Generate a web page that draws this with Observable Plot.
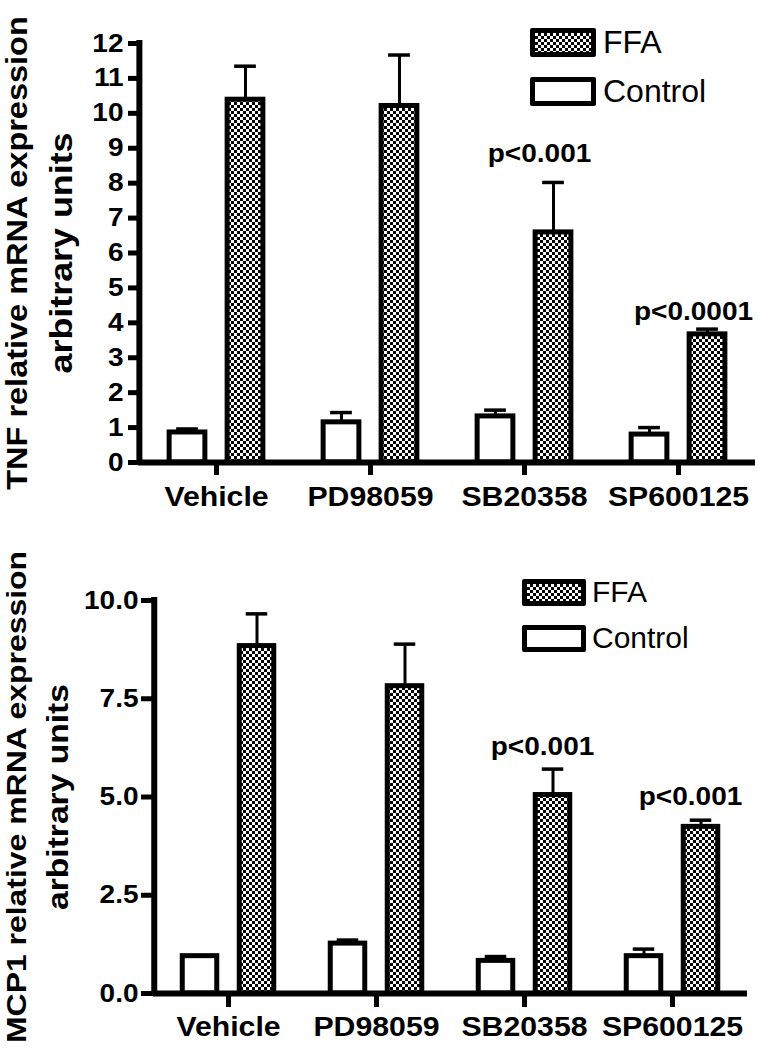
<!DOCTYPE html>
<html><head><meta charset="utf-8">
<script src="https://cdn.jsdelivr.net/npm/d3@7"></script>
<script src="https://cdn.jsdelivr.net/npm/@observablehq/plot@0.6"></script>
<style>
body{margin:0;background:#fff;}
#wrap{position:relative;width:758px;height:1050px;overflow:hidden;font-family:"Liberation Sans",Arial,sans-serif;background:#fff;}
.panel{position:relative;width:758px;height:525px;}
.sw{position:absolute;box-sizing:border-box;border:5px solid #000;border-radius:2px;background:#fff;}
.sw.ffa{background:repeating-conic-gradient(#000 0 25%, #fff 0 50%) 0 0/6px 6px;}
.lt{position:absolute;line-height:1;color:#000;white-space:nowrap;}
</style></head>
<body><div id="wrap"></div>
<script>
// ---------- data ----------
const categories = ["Vehicle", "PD98059", "SB20358", "SP600125"];
const seriesNames = ["FFA", "Control"];

const tnfControl    = [0.86, 1.15, 1.32, 0.80];
const tnfControlErr = [0.10, 0.28, 0.18, 0.20];
const tnfFFA        = [10.39, 10.21, 6.59, 3.67];
const tnfFFAErr     = [0.96, 1.46, 1.43, 0.15];
const tnfTicks      = [0,1,2,3,4,5,6,7,8,9,10,11,12];
const tnfNoteCats   = ["SB20358", "SP600125"];
const tnfNoteLabels = ["p<0.001", "p<0.0001"];
const tnfNoteY      = [8.83, 4.30];

const mcpControl    = [0.95, 1.27, 0.83, 0.95];
const mcpControlErr = [0.0, 0.09, 0.11, 0.18];
const mcpFFA        = [8.84, 7.82, 5.05, 4.24];
const mcpFFAErr     = [0.82, 1.07, 0.66, 0.17];
const mcpTicks      = [0, 2.5, 5, 7.5, 10];
const mcpNoteCats   = ["SB20358", "SP600125"];
const mcpNoteLabels = ["p<0.001", "p<0.001"];
const mcpNoteY      = [6.28, 4.99];

// ---------- rendering ----------
const STRETCH = 1.12;
const FONT = "Liberation Sans, Arial, Helvetica, sans-serif";

function panel(cfg) {
  const W = 758, H = 525;
  const bw = (W - cfg.ml - cfg.mr) / categories.length;
  const rows = (vals, errs) => categories.map((c, i) => ({cat: c, v: vals[i], top: vals[i] + errs[i], e: errs[i]}));
  const ctrl = rows(cfg.control, cfg.controlErr);
  const ffa = rows(cfg.ffa, cfg.ffaErr);
  const inset = (off, half) => ({insetLeft: bw / 2 + off - half, insetRight: bw / 2 - off - half});
  const notes = cfg.noteCats.map((c, i) => ({cat: c, label: cfg.noteLabels[i], y: cfg.noteY[i]}));
  const pid = "checker-" + cfg.id;

  const errMarks = (data, off) => [
    Plot.ruleX(data.filter(d => d.e > 0), {x: "cat", y1: "v", y2: "top", dx: off, stroke: "#000", strokeWidth: 3}),
    Plot.tickY(data.filter(d => d.e > 0), {x: "cat", y: "top", ...inset(off, cfg.cap), stroke: "#000", strokeWidth: 3.5})
  ];

  const svg = Plot.plot({
    width: W, height: H,
    marginTop: cfg.mt, marginBottom: cfg.mb, marginLeft: cfg.ml, marginRight: cfg.mr,
    x: {domain: categories, padding: 0},
    y: {domain: [0, cfg.yMax]},
    style: {fontFamily: FONT, fontWeight: "bold", color: "#000", background: "#fff", overflow: "visible"},
    marks: [
      ...errMarks(ctrl, -cfg.off),
      ...errMarks(ffa, cfg.off),
      Plot.barY(ctrl, {x: "cat", y: "v", fill: "#fff", stroke: "#000", strokeWidth: 5, ...inset(-cfg.off, cfg.half)}),
      Plot.barY(ffa, {x: "cat", y: "v", fill: `url(#${pid})`, stroke: "#000", strokeWidth: 5, ...inset(cfg.off, cfg.half)}),
      Plot.ruleY([0], {stroke: "#000", strokeWidth: 6}),
      Plot.ruleX([categories[0]], {y1: 0, y2: cfg.yMax, dx: -bw / 2, stroke: "#000", strokeWidth: 6, strokeLinecap: "square"}),
      Plot.axisY({ticks: cfg.ticks, tickFormat: cfg.tickFormat, tickSize: cfg.yTickSize, tickPadding: cfg.yTickPad,
                  strokeWidth: 5, fontSize: cfg.tickFs, label: null}),
      Plot.axisX({tickSize: cfg.xTickSize, tickPadding: cfg.xTickPad, strokeWidth: 5, fontSize: cfg.xFs, label: null}),
      Plot.text(notes, {x: "cat", y: "y", text: "label", dx: cfg.noteDx, fontSize: cfg.noteFs, lineAnchor: "middle"}),
      Plot.text([cfg.title1], {frameAnchor: "left", rotate: -90, textAnchor: "middle", lineAnchor: "middle",
                               dx: cfg.t1x - cfg.ml, fontSize: cfg.title1Fs}),
      Plot.text([cfg.title2], {frameAnchor: "left", rotate: -90, textAnchor: "middle", lineAnchor: "middle",
                               dx: cfg.t2x - cfg.ml, fontSize: cfg.title2Fs})
    ]
  });

  d3.select(svg).insert("defs", ":first-child").html(
    `<pattern id="${pid}" width="6" height="6" patternUnits="userSpaceOnUse">
       <rect width="6" height="6" fill="#fff"/>
       <rect width="3" height="3" fill="#000"/>
       <rect x="3" y="3" width="3" height="3" fill="#000"/>
     </pattern>`);

  const div = document.createElement("div");
  div.className = "panel";
  div.appendChild(svg);

  // legend
  const L = cfg.legend;
  seriesNames.forEach((name, i) => {
    const sw = document.createElement("div");
    sw.className = "sw" + (name === "FFA" ? " ffa" : "");
    Object.assign(sw.style, {left: L.x + "px", top: (L.y + i * L.dy) + "px", width: L.w + "px", height: L.h + "px"});
    div.appendChild(sw);
    const t = document.createElement("div");
    t.className = "lt";
    t.textContent = name;
    Object.assign(t.style, {left: L.tx + "px", top: (L.ty + i * L.dy) + "px", fontSize: L.fs + "px"});
    div.appendChild(t);
  });

  document.getElementById("wrap").appendChild(div);

  // horizontally stretched bold lettering as in the original figure
  d3.select(svg).selectAll("text").each(function() {
    const len = this.getComputedTextLength();
    if (len > 0) {
      this.setAttribute("textLength", (len * STRETCH).toFixed(2));
      this.setAttribute("lengthAdjust", "spacingAndGlyphs");
    }
  });
}

panel({
  id: "tnf", control: tnfControl, controlErr: tnfControlErr, ffa: tnfFFA, ffaErr: tnfFFAErr,
  yMax: 12, ticks: tnfTicks, tickFormat: d3.format("d"),
  noteCats: tnfNoteCats, noteLabels: tnfNoteLabels, noteY: tnfNoteY,
  title1: "TNF relative mRNA expression", title2: "arbitrary units",
  mt: 43, mb: 63, ml: 138, mr: 3,
  off: 29, half: 18, cap: 11,
  yTickSize: 10, yTickPad: 5, tickFs: 25,
  xTickSize: 13, xTickPad: 11, xFs: 27,
  noteDx: 15, noteFs: 25,
  title1Fs: 29, title2Fs: 32, t1x: 17, t2x: 61,
  legend: {x: 530, y: 28, dy: 49, w: 66, h: 29, tx: 603, ty: 26, fs: 32}
});

panel({
  id: "mcp", control: mcpControl, controlErr: mcpControlErr, ffa: mcpFFA, ffaErr: mcpFFAErr,
  yMax: 10, ticks: mcpTicks, tickFormat: d3.format(".1f"),
  noteCats: mcpNoteCats, noteLabels: mcpNoteLabels, noteY: mcpNoteY,
  title1: "MCP1 relative mRNA expression", title2: "arbitrary units",
  mt: 75, mb: 57, ml: 153, mr: 11,
  off: 28.5, half: 17.5, cap: 11,
  yTickSize: 12, yTickPad: 3, tickFs: 25,
  xTickSize: 14, xTickPad: 9, xFs: 27,
  noteDx: 18, noteFs: 25,
  title1Fs: 28.5, title2Fs: 30, t1x: 16, t2x: 58,
  legend: {x: 522, y: 54, dy: 46, w: 64, h: 27, tx: 592, ty: 52, fs: 30}
});
</script>
</body></html>
